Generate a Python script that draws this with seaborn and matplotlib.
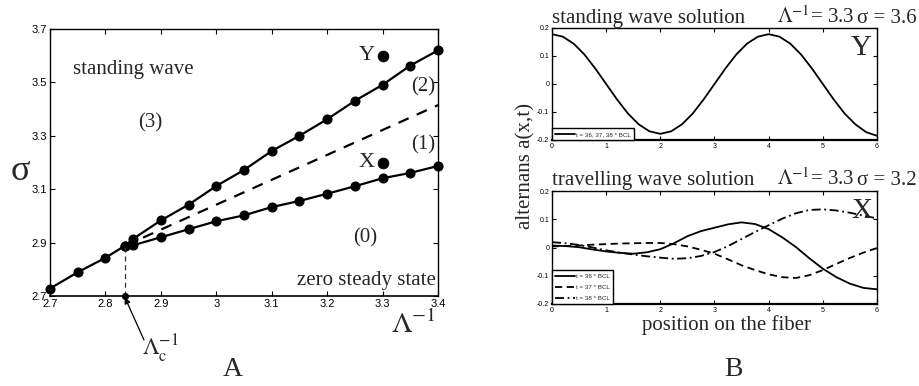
import numpy as np
import pandas as pd
import matplotlib
matplotlib.use("Agg")
import matplotlib.pyplot as plt
import seaborn as sns

# ---------------- data ----------------
# Panel A: phase diagram
lam_common = [2.70, 2.75, 2.80, 2.835]
sig_common = [2.728, 2.789, 2.843, 2.888]
lam_branch = [2.85, 2.90, 2.95, 3.00, 3.05, 3.10, 3.15, 3.20, 3.25, 3.30, 3.35, 3.40]
sig_upper = [2.914, 2.983, 3.042, 3.112, 3.172, 3.243, 3.300, 3.362, 3.431, 3.491, 3.563, 3.620]
sig_lower = [2.890, 2.920, 2.950, 2.980, 3.002, 3.033, 3.056, 3.083, 3.111, 3.141, 3.161, 3.187]
lam_dash = [2.835, 3.40]
sig_dash = [2.888, 3.415]
lam_c = 2.835
pts_lam = [3.3, 3.3]
pts_sig = [3.6, 3.2]
pts_lab = ["Y", "X"]
xticksA = [2.7, 2.8, 2.9, 3.0, 3.1, 3.2, 3.3, 3.4]
xticklabA = ["2.7", "2.8", "2.9", "3", "3.1", "3.2", "3.3", "3.4"]
yticksA = [2.7, 2.9, 3.1, 3.3, 3.5, 3.7]
yticklabA = ["2.7", "2.9", "3.1", "3.3", "3.5", "3.7"]

# Panel B top: standing wave
pos_sw = [0.0, 0.2, 0.4, 0.6, 0.8, 1.0, 1.2, 1.4, 1.6, 1.8, 2.0, 2.2, 2.4, 2.6, 2.8, 3.0,
          3.2, 3.4, 3.6, 3.8, 4.0, 4.2, 4.4, 4.6, 4.8, 5.0, 5.2, 5.4, 5.6, 5.8, 6.0]
alt_sw = [0.178, 0.169, 0.144, 0.105, 0.055, 0.000, -0.055, -0.105, -0.144, -0.169, -0.178,
          -0.169, -0.144, -0.105, -0.055, 0.000, 0.055, 0.105, 0.144, 0.169, 0.178,
          0.169, 0.144, 0.105, 0.055, 0.000, -0.055, -0.105, -0.144, -0.172, -0.185]

# Panel B bottom: travelling wave
pos_tw = [0.0, 0.25, 0.5, 0.75, 1.0, 1.25, 1.5, 1.75, 2.0, 2.25, 2.5, 2.75, 3.0,
          3.25, 3.5, 3.75, 4.0, 4.25, 4.5, 4.75, 5.0, 5.25, 5.5, 5.75, 6.0]
alt_t36 = [0.007, 0.005, 0.001, -0.007, -0.014, -0.019, -0.022, -0.017, -0.006, 0.015, 0.040,
           0.058, 0.070, 0.082, 0.089, 0.083, 0.065, 0.036, 0.002, -0.038, -0.075, -0.105,
           -0.128, -0.143, -0.148]
alt_t37 = [0.004, 0.005, 0.007, 0.010, 0.012, 0.014, 0.015, 0.016, 0.016, 0.012, 0.004,
           -0.008, -0.022, -0.042, -0.063, -0.080, -0.095, -0.105, -0.108, -0.098, -0.080,
           -0.058, -0.037, -0.018, -0.002]
alt_t38 = [0.019, 0.015, 0.009, 0.000, -0.010, -0.018, -0.025, -0.031, -0.036, -0.040, -0.038,
           -0.030, -0.016, 0.005, 0.030, 0.055, 0.079, 0.102, 0.121, 0.133, 0.135, 0.131,
           0.123, 0.113, 0.103]
xticksB = [0, 1, 2, 3, 4, 5, 6]
xticklabB = ["0", "1", "2", "3", "4", "5", "6"]
yticksB = [-0.2, -0.1, 0.0, 0.1, 0.2]
yticklabB = ["-0.2", "-0.1", "0", "0.1", "0.2"]

# ---------------- style ----------------
sns.set_theme(style="ticks")
plt.rcParams["font.family"] = ["Liberation Serif", "DejaVu Serif"]
plt.rcParams["mathtext.fontset"] = "stix"
plt.rcParams["axes.linewidth"] = 1.0
plt.rcParams["axes.edgecolor"] = "black"

SANS = ["Liberation Sans", "DejaVu Sans"]
SERIF = ["Liberation Serif", "DejaVu Serif"]

W, H = 920, 386
fig = plt.figure(figsize=(W / 100, H / 100), dpi=100)
fig.patch.set_facecolor("white")


def box(l, t, r, b):
    return [l / W, 1 - b / H, (r - l) / W, (b - t) / H]


def fpx(x, y):
    return x / W, 1 - y / H


def style_ax(ax, tsize, length, bottom_lw=1.0):
    ax.tick_params(direction="in", top=True, right=True, length=length, width=0.8,
                   colors="black", labelsize=tsize, pad=2)
    for s in ax.spines.values():
        s.set_visible(True)
        s.set_color("black")
    ax.spines["bottom"].set_linewidth(bottom_lw)
    for lab in ax.get_xticklabels() + ax.get_yticklabels():
        lab.set_fontfamily(SANS)


# ---------------- panel A ----------------
axA = fig.add_axes(box(50, 29, 438, 296))
axA.set_facecolor("white")
up_df = pd.DataFrame({"lam": lam_common + lam_branch, "sig": sig_common + sig_upper})
lo_df = pd.DataFrame({"lam": [lam_common[-1]] + lam_branch, "sig": [sig_common[-1]] + sig_lower})
dash_df = pd.DataFrame({"lam": lam_dash, "sig": sig_dash})

sns.lineplot(data=up_df, x="lam", y="sig", ax=axA, color="black", lw=1.6, marker="o",
             markersize=6.5, markeredgecolor="black", sort=False, estimator=None, clip_on=False)
sns.lineplot(data=lo_df, x="lam", y="sig", ax=axA, color="black", lw=1.6, marker="o",
             markersize=6.5, markeredgecolor="black", sort=False, estimator=None, clip_on=False)
sns.lineplot(data=dash_df, x="lam", y="sig", ax=axA, color="black", lw=1.6,
             sort=False, estimator=None)
axA.lines[-1].set_dashes([5, 4])
# critical value marker
crit_df = pd.DataFrame({"lam": [lam_c, lam_c], "sig": [2.70, sig_common[-1]]})
sns.lineplot(data=crit_df, x="lam", y="sig", ax=axA, color="#333333", lw=0.9,
             sort=False, estimator=None)
axA.lines[-1].set_dashes([4, 3])
sns.scatterplot(x=[lam_c], y=[2.70], ax=axA, color="black", s=22, edgecolor="black",
                clip_on=False, zorder=5)
# X, Y points
sns.scatterplot(x=pts_lam, y=pts_sig, ax=axA, color="black", s=60, edgecolor="black", zorder=5)
for lx, ly, lb in zip(pts_lam, pts_sig, pts_lab):
    axA.text(lx - 0.014, ly, lb, ha="right", va="center", fontsize=16, family=SERIF)

axA.set_xlim(2.7, 3.4)
axA.set_ylim(2.7, 3.7)
axA.set_xticks(xticksA)
axA.set_xticklabels(xticklabA)
axA.set_yticks(yticksA)
axA.set_yticklabels(yticklabA)
axA.set_xlabel("")
axA.set_ylabel("")
style_ax(axA, 8, 3.5, 1.2)

axA.text(2.742, 3.532, "standing wave", fontsize=15, family=SERIF, ha="left", va="baseline")
axA.text(2.88, 3.35, "(3)", fontsize=15, family=SERIF, ha="center", va="center")
axA.text(3.373, 3.483, "(2)", fontsize=15, family=SERIF, ha="center", va="center")
axA.text(3.373, 3.266, "(1)", fontsize=15, family=SERIF, ha="center", va="center")
axA.text(3.269, 2.919, "(0)", fontsize=15, family=SERIF, ha="center", va="center")
axA.text(3.396, 2.742, "zero steady state", fontsize=15, family=SERIF, ha="right", va="baseline")

fig.text(*fpx(20, 171), "σ", fontsize=26, family=SERIF, ha="center", va="center")
fig.text(*fpx(413, 325), r"$\Lambda^{-1}$", fontsize=21, ha="center", va="center")
fig.text(*fpx(160, 349), r"$\Lambda_{\mathrm{c}}^{-1}$", fontsize=17, ha="center", va="center")
axA.annotate("", xy=(lam_c, 2.695), xycoords="data",
             xytext=fpx(144, 340), textcoords="figure fraction",
             arrowprops=dict(arrowstyle="-|>", color="black", lw=0.9,
                             mutation_scale=9, shrinkA=0, shrinkB=0),
             annotation_clip=False)
fig.text(*fpx(233, 370), "A", fontsize=20, family=SERIF, ha="center", va="center")
fig.text(*fpx(733, 370), "B", fontsize=20, family=SERIF, ha="center", va="center")

# ---------------- panel B top ----------------
axT = fig.add_axes(box(552, 28, 877, 140))
sw_df = pd.DataFrame({"x": pos_sw, "a": alt_sw})
sns.lineplot(data=sw_df, x="x", y="a", ax=axT, color="black", lw=1.3, sort=False,
             estimator=None, label="t = 36, 37, 38 * BCL")
axT.set_xlim(0, 6)
axT.set_ylim(-0.2, 0.2)
axT.set_xticks(xticksB)
axT.set_xticklabels(xticklabB)
axT.set_yticks(yticksB)
axT.set_yticklabels(yticklabB)
axT.set_xlabel("")
axT.set_ylabel("")
style_ax(axT, 5, 3, 1.6)
legT = axT.legend(loc="lower left", borderaxespad=0, fancybox=False, framealpha=1,
                  edgecolor="black", prop={"family": SANS, "size": 4.5}, handlelength=3.2,
                  borderpad=0.5, handletextpad=0.2)
legT.get_frame().set_linewidth(1.0)
axT.text(0.985, 0.94, "Y", transform=axT.transAxes, ha="right", va="top", fontsize=21,
         family=SERIF)

# ---------------- panel B bottom ----------------
axB = fig.add_axes(box(552, 191, 877, 304))
tw_df = pd.DataFrame({
    "x": pos_tw * 3,
    "a": alt_t36 + alt_t37 + alt_t38,
    "t": ["t = 36 * BCL"] * len(pos_tw) + ["t = 37 * BCL"] * len(pos_tw) + ["t = 38 * BCL"] * len(pos_tw),
})
sns.lineplot(data=tw_df, x="x", y="a", hue="t", style="t", ax=axB,
             palette=["black", "black", "black"],
             dashes=[(None, None), (4, 2.5), (5, 2, 1, 2)], lw=1.3, sort=False, estimator=None)
axB.set_xlim(0, 6)
axB.set_ylim(-0.2, 0.2)
axB.set_xticks(xticksB)
axB.set_xticklabels(xticklabB)
axB.set_yticks(yticksB)
axB.set_yticklabels(yticklabB)
axB.set_xlabel("")
axB.set_ylabel("")
style_ax(axB, 5, 3, 1.6)
legB = axB.legend(loc="lower left", borderaxespad=0, fancybox=False, framealpha=1,
                  edgecolor="black", prop={"family": SANS, "size": 4.5}, handlelength=3.2,
                  borderpad=0.5, handletextpad=0.2, labelspacing=0.9, title=None)
legB.get_frame().set_linewidth(1.0)
axB.text(0.985, 0.94, "X", transform=axB.transAxes, ha="right", va="top", fontsize=21,
         family=SERIF)

# titles
fig.text(*fpx(552, 23), "standing wave solution", fontsize=15, family=SERIF, va="baseline")
fig.text(*fpx(777, 23), r"$\Lambda^{-1}$= 3.3", fontsize=15, family=SERIF, va="baseline")
fig.text(*fpx(857, 23), "σ = 3.6", fontsize=15, family=SERIF, va="baseline")
fig.text(*fpx(552, 185), "travelling wave solution", fontsize=15, family=SERIF, va="baseline")
fig.text(*fpx(777, 185), r"$\Lambda^{-1}$= 3.3", fontsize=15, family=SERIF, va="baseline")
fig.text(*fpx(857, 185), "σ = 3.2", fontsize=15, family=SERIF, va="baseline")

fig.text(*fpx(526, 166), "alternans a(x,t)", fontsize=15, family=SERIF, rotation=90,
         ha="center", va="center")
fig.text(*fpx(727, 325), "position on the fiber", fontsize=15, family=SERIF,
         ha="center", va="center")

fig.savefig("out.png", dpi=100)
